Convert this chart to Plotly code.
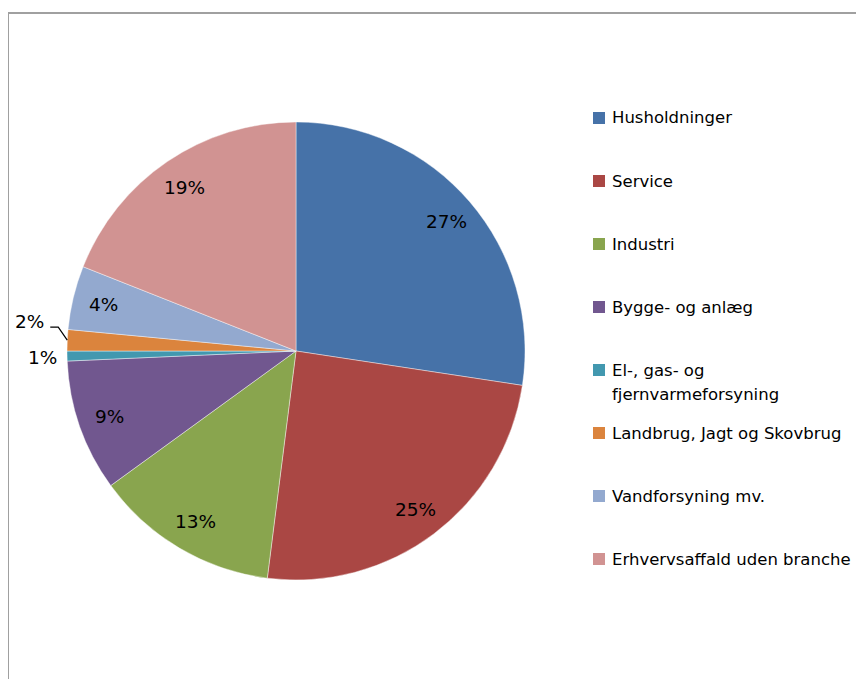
import math
import plotly.graph_objects as go

# ---- data ----
labels = [
    "Husholdninger",
    "Service",
    "Industri",
    "Bygge- og anlæg",
    "El-, gas- og<br>fjernvarmeforsyning",
    "Landbrug, Jagt og Skovbrug",
    "Vandforsyning mv.",
    "Erhvervsaffald uden branche",
]
values = [27.4, 24.6, 13.0, 9.3, 0.7, 1.5, 4.5, 19.0]
pct_text = ["27%", "25%", "13%", "9%", "1%", "2%", "4%", "19%"]
colors = ["#4672A8", "#AA4744", "#89A54E", "#71578F", "#4298AF", "#DB843D", "#93A9CF", "#D19392"]

W, H = 864, 679
OFF = 8  # page body margin
CX, CY, R = 296, 351, 229
FONT = "DejaVu Sans"


def px(x):
    return (x - OFF) / W


def py(y):
    return 1 - (y - OFF) / H


fig = go.Figure(
    go.Pie(
        labels=labels,
        values=values,
        sort=False,
        direction="clockwise",
        rotation=0,
        marker=dict(colors=colors, line=dict(color="rgba(255,255,255,0.6)", width=0.7)),
        textinfo="none",
        hoverinfo="label+percent",
        showlegend=False,
        domain=dict(x=[px(CX - R), px(CX + R)], y=[py(CY + R), py(CY - R)]),
    )
)

annotations = []
shapes = []

# percentage labels computed from slice mid-angles
total = sum(values)
cum = 0.0
for i, (v, t) in enumerate(zip(values, pct_text)):
    mid = (cum + v / 2) / total * 2 * math.pi
    cum += v
    s, c = math.sin(mid), math.cos(mid)
    if v >= 3:
        r = 0.865 * R
        x, y = CX + r * s, CY - r * c
        annotations.append(dict(x=px(x), y=py(y), xref="paper", yref="paper", text=t,
                                showarrow=False, xanchor="center", yanchor="middle",
                                font=dict(family=FONT, size=18.5, color="#000")))
    else:
        ex, ey = CX + R * s, CY - R * c
        if v >= 1:
            # leader line label
            p2x, p2y = ex - 9, ey - 13
            p3x, p3y = p2x - 8, p2y
            shapes.append(dict(type="path", xref="paper", yref="paper",
                               path=f"M {px(ex)},{py(ey)} L {px(p2x)},{py(p2y)} L {px(p3x)},{py(p3y)}",
                               line=dict(color="#000", width=1.2)))
            annotations.append(dict(x=px(p3x - 4), y=py(p2y - 6), xref="paper", yref="paper", text=t,
                                    showarrow=False, xanchor="right", yanchor="middle",
                                    font=dict(family=FONT, size=18.5, color="#000")))
        else:
            annotations.append(dict(x=px(ex - 8), y=py(ey + 1), xref="paper", yref="paper", text=t,
                                    showarrow=False, xanchor="right", yanchor="middle",
                                    font=dict(family=FONT, size=18.5, color="#000")))

# legend (manual, right side)
LX, LY0, LDY, LINE = 599, 118, 63, 24
for i, (lab, col) in enumerate(zip(labels, colors)):
    yc = LY0 + LDY * i
    shapes.append(dict(type="rect", xref="paper", yref="paper",
                       x0=px(LX - 6), x1=px(LX + 6), y0=py(yc + 6), y1=py(yc - 6),
                       fillcolor=col, line=dict(width=0)))
    for k, line in enumerate(lab.split("<br>")):
        annotations.append(dict(x=px(LX + 11), y=py(yc + LINE * k), xref="paper", yref="paper",
                                text=line, showarrow=False, xanchor="left", yanchor="middle",
                                font=dict(family=FONT, size=16.5, color="#000")))

# chart-area border (top and left visible)
shapes.append(dict(type="line", xref="paper", yref="paper", x0=px(8), x1=1, y0=py(13), y1=py(13),
                   line=dict(color="#A0A0A0", width=2)))
shapes.append(dict(type="line", xref="paper", yref="paper", x0=px(8), x1=px(8), y0=py(13), y1=0,
                   line=dict(color="#A0A0A0", width=2)))

fig.update_layout(
    width=W,
    height=H,
    margin=dict(l=0, r=0, t=0, b=0),
    paper_bgcolor="white",
    plot_bgcolor="white",
    showlegend=False,
    annotations=annotations,
    shapes=shapes,
    font=dict(family=FONT),
)

fig.write_html("out.html")
